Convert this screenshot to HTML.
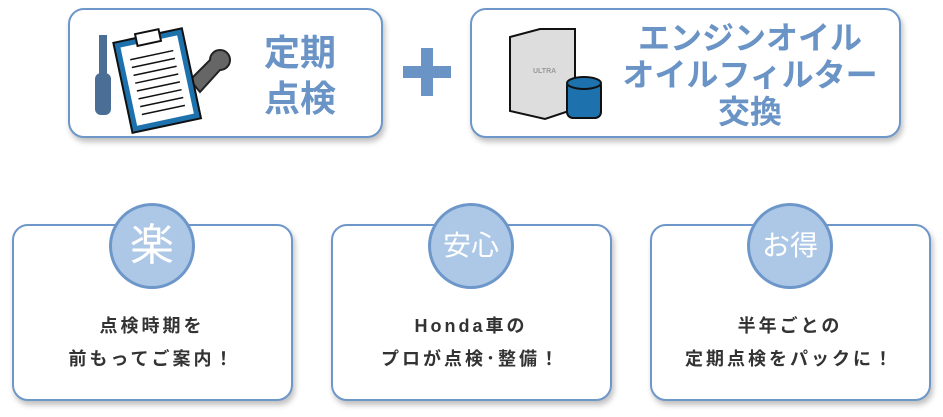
<!DOCTYPE html>
<html><head><meta charset="utf-8"><style>
body{margin:0;width:943px;height:417px;background:#fff;position:relative;overflow:hidden;font-family:"Liberation Sans","Noto Sans CJK JP",sans-serif}
.box{position:absolute;border:2px solid #6e97c9;border-radius:16px;background:#fff;box-shadow:2px 4px 6px rgba(0,0,0,.25);box-sizing:border-box}
.t{position:absolute;color:#6a93c6;font-weight:bold;text-align:center}
.c{position:absolute;width:86px;height:86px;border-radius:50%;background:#adc8e6;border:3px solid #6e97c9;box-sizing:border-box;color:#fff;text-align:center}
.bt{position:absolute;width:280px;text-align:center;color:#333;font-size:18px;font-weight:bold;letter-spacing:3px;line-height:33px}
</style></head><body>
<div class="box" style="left:68px;top:8px;width:315px;height:130px"></div>
<div class="box" style="left:470px;top:8px;width:431px;height:130px"></div>
<div class="t" style="left:250px;top:30px;width:100px;font-size:36px;line-height:46px">定期<br>点検</div>
<div class="t" style="left:600px;top:20px;width:300px;font-size:32px;line-height:37px">エンジンオイル<br>オイルフィルター<br>交換</div>
<div style="position:absolute;left:403px;top:66px;width:48px;height:12px;background:#6a93c6"></div>
<div style="position:absolute;left:421px;top:48px;width:12px;height:48px;background:#6a93c6"></div>
<svg style="position:absolute;left:95px;top:25px" width="150" height="110">
<rect x="4" y="10" width="8" height="40" fill="#4a6e96"/><rect x="0" y="48" width="16" height="42" rx="6" fill="#4a6e96"/>
<path d="M95 55 l20-20 a10 10 0 1 1 10 10 l-20 22z" fill="#666" stroke="#222" stroke-width="2"/>
<g transform="rotate(-12 60 55)"><rect x="27" y="10" width="70" height="92" fill="#1d72ad" stroke="#111" stroke-width="2"/><rect x="33" y="16" width="58" height="80" fill="#fff"/><rect x="50" y="6" width="24" height="12" fill="#fff" stroke="#111" stroke-width="2"/>
<g stroke="#111" stroke-width="1.5"><line x1="40" y1="30" x2="84" y2="30"/><line x1="40" y1="38" x2="84" y2="38"/><line x1="40" y1="46" x2="84" y2="46"/><line x1="40" y1="54" x2="84" y2="54"/><line x1="40" y1="62" x2="84" y2="62"/><line x1="40" y1="70" x2="84" y2="70"/><line x1="40" y1="78" x2="84" y2="78"/><line x1="40" y1="86" x2="84" y2="86"/></g></g>
</svg>
<svg style="position:absolute;left:505px;top:25px" width="100" height="100">
<path d="M5 12 l30-8 h35 v80 l-30 10 l-35-8z" fill="#ddd" stroke="#111" stroke-width="2"/>
<text x="28" y="48" font-size="7" font-weight="bold" fill="#999" font-family="Liberation Sans">ULTRA</text>
<rect x="62" y="55" width="34" height="38" rx="6" fill="#1d72ad" stroke="#111" stroke-width="2"/><ellipse cx="79" cy="58" rx="17" ry="6" fill="#1d72ad" stroke="#111" stroke-width="2"/>
</svg>
<div class="box" style="left:12px;top:224px;width:281px;height:177px"></div>
<div class="box" style="left:331px;top:224px;width:281px;height:177px"></div>
<div class="box" style="left:650px;top:224px;width:281px;height:177px"></div>
<div class="c" style="left:109px;top:203px;font-size:44px;line-height:80px">楽</div>
<div class="c" style="left:428px;top:203px;font-size:28px;line-height:80px">安心</div>
<div class="c" style="left:747px;top:203px;font-size:28px;line-height:80px">お得</div>
<div class="bt" style="left:12px;top:310px">点検時期を<br>前もってご案内！</div>
<div class="bt" style="left:331px;top:310px">Honda車の<br>プロが点検･整備！</div>
<div class="bt" style="left:650px;top:310px">半年ごとの<br>定期点検をパックに！</div>
</body></html>
